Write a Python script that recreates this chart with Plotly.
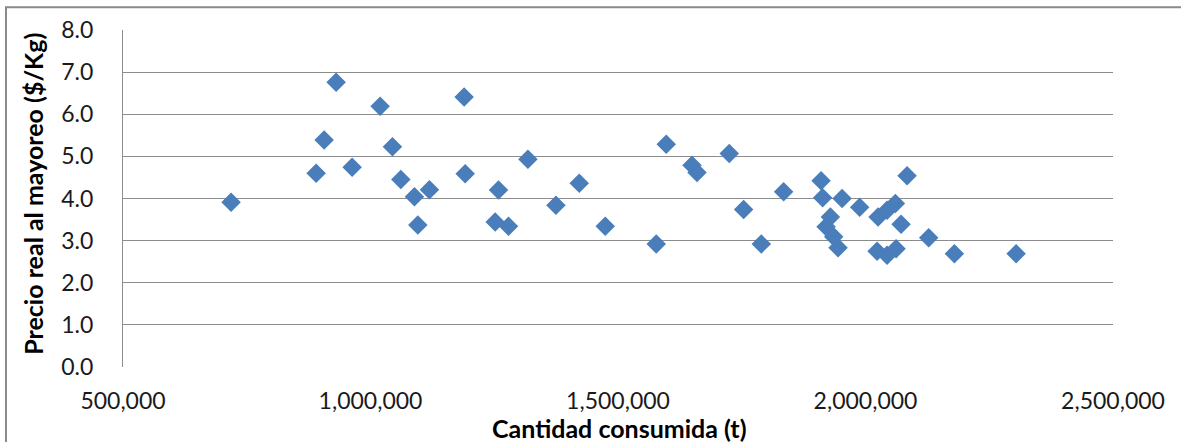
import plotly.graph_objects as go

# Cantidad consumida (t)
cantidad = [718300, 890100, 906300, 930500, 962900, 1019500, 1044300, 1061300,
            1088800, 1095600, 1119100, 1189200, 1191300, 1251900, 1258600, 1278800,
            1318000, 1374600, 1421700, 1474200, 1577300, 1597500, 1649500, 1659600,
            1724800, 1753800, 1789500, 1834600, 1910200, 1913400, 1952600, 1988200,
            1929000, 1920300, 1935700, 1944600, 2025400, 2043600, 2060400, 2071900,
            2084000, 2023400, 2043600, 2061800, 2127700, 2179600, 2304300]
# Precio real al mayoreo ($/Kg)
precio = [3.91, 4.60, 5.39, 6.76, 4.74, 6.19, 5.23, 4.45,
          4.04, 3.37, 4.21, 6.41, 4.59, 3.44, 4.20, 3.34,
          4.93, 3.84, 4.36, 3.34, 2.92, 5.29, 4.79, 4.62,
          5.07, 3.74, 2.92, 4.16, 4.42, 4.02, 4.00, 3.79,
          3.56, 3.33, 3.09, 2.83, 3.56, 3.72, 3.88, 3.39,
          4.54, 2.75, 2.65, 2.81, 3.07, 2.69, 2.69]

x_ticks = [500000, 1000000, 1500000, 2000000, 2500000]
x_tick_labels = ["500,000", "1,000,000", "1,500,000", "2,000,000", "2,500,000"]
y_ticks = [0, 1, 2, 3, 4, 5, 6, 7, 8]
y_tick_labels = ["0.0", "1.0", "2.0", "3.0", "4.0", "5.0", "6.0", "7.0", "8.0"]

x_title = "Cantidad consumida (t)"
y_title = "Precio real al mayoreo ($/Kg)"

fig = go.Figure()
fig.add_trace(go.Scatter(
    x=cantidad, y=precio, mode="markers",
    marker=dict(symbol="diamond", size=15, color="#4a7ebb",
                line=dict(width=0)),
    cliponaxis=False, showlegend=False,
))

grid = "#8c8c8c"
fig.update_layout(
    width=1181, height=442,
    margin=dict(l=123, r=68, t=30, b=75),
    paper_bgcolor="white", plot_bgcolor="white",
    font=dict(family="Lato", size=23, color="#1a1a1a"),
    xaxis=dict(range=[500000, 2500000], tickvals=x_ticks, ticktext=x_tick_labels,
               showgrid=False, zeroline=False, showline=False,
               ticks="", ticklabelstandoff=18,
               tickfont=dict(family="Lato", size=23, color="#1a1a1a")),
    yaxis=dict(range=[0, 8], tickvals=y_ticks, ticktext=y_tick_labels,
               showgrid=True, gridcolor=grid, gridwidth=1,
               zeroline=False, showline=True, linecolor=grid, linewidth=1,
               ticks="", ticklabelstandoff=24,
               tickfont=dict(family="Lato", size=23, color="#1a1a1a")),
    annotations=[
        dict(text="<b>" + x_title + "</b>", xref="paper", yref="paper",
             x=0.502, y=-0.182, xanchor="center", yanchor="middle",
             showarrow=False, font=dict(family="Lato", size=25, color="#000000")),
        dict(text="<b>" + y_title + "</b>", xref="paper", yref="paper",
             x=-0.0909, y=0.514, xanchor="center", yanchor="middle",
             textangle=-90, showarrow=False,
             font=dict(family="Lato", size=25, color="#000000")),
    ],
    shapes=[
        dict(type="rect", xref="paper", yref="paper",
             x0=-0.1182, y0=-0.4, x1=1.2, y1=1.0674,
             line=dict(color="#8a8a8a", width=2), fillcolor="rgba(0,0,0,0)",
             layer="below"),
    ],
)

fig.write_html("out.html", config={"displayModeBar": False},
               post_script="document.body.style.margin='0px';document.body.style.overflow='hidden';")
